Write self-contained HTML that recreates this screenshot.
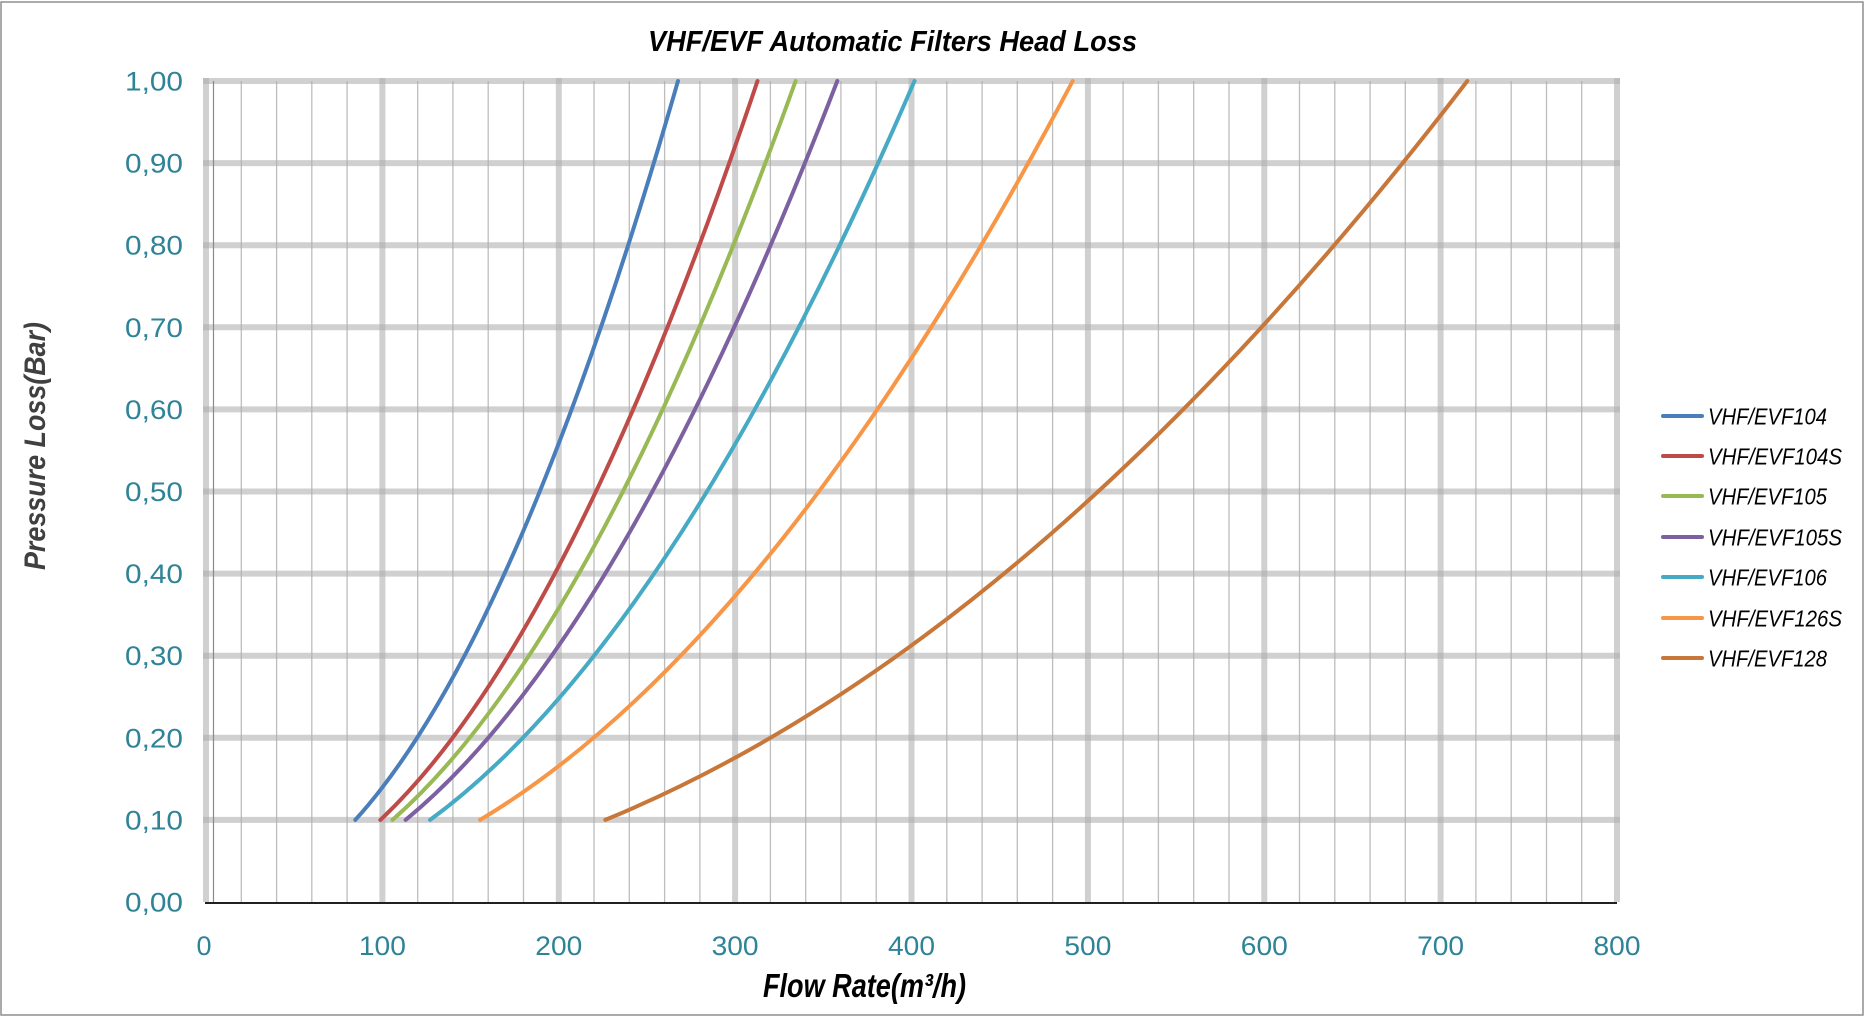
<!DOCTYPE html>
<html>
<head>
<meta charset="utf-8">
<style>
html,body{margin:0;padding:0;background:#fff;}
svg{display:block;}
</style>
</head>
<body>
<svg width="1865" height="1017" viewBox="0 0 1865 1017" xmlns="http://www.w3.org/2000/svg">
<rect x="0" y="0" width="1865" height="1017" fill="#ffffff"/>
<rect x="1" y="2" width="1862" height="1013" fill="#ffffff" stroke="#8f8f8f" stroke-width="1.5"/>

<!-- Title -->
<text x="648" y="51" font-family="Liberation Sans, Arial, sans-serif" font-size="29" font-weight="bold" font-style="italic" fill="#000" textLength="489" lengthAdjust="spacingAndGlyphs">VHF/EVF Automatic Filters Head Loss</text>

<!-- minor vertical gridlines -->
<g stroke="rgb(173,173,173)" stroke-opacity="0.8" stroke-width="1.3">
<line x1="241.3" y1="81" x2="241.3" y2="902"/><line x1="276.6" y1="81" x2="276.6" y2="902"/><line x1="311.8" y1="81" x2="311.8" y2="902"/><line x1="347.1" y1="81" x2="347.1" y2="902"/>
<line x1="417.7" y1="81" x2="417.7" y2="902"/><line x1="452.9" y1="81" x2="452.9" y2="902"/><line x1="488.2" y1="81" x2="488.2" y2="902"/><line x1="523.5" y1="81" x2="523.5" y2="902"/>
<line x1="594.0" y1="81" x2="594.0" y2="902"/><line x1="629.3" y1="81" x2="629.3" y2="902"/><line x1="664.6" y1="81" x2="664.6" y2="902"/><line x1="699.9" y1="81" x2="699.9" y2="902"/>
<line x1="770.4" y1="81" x2="770.4" y2="902"/><line x1="805.7" y1="81" x2="805.7" y2="902"/><line x1="840.9" y1="81" x2="840.9" y2="902"/><line x1="876.2" y1="81" x2="876.2" y2="902"/>
<line x1="946.8" y1="81" x2="946.8" y2="902"/><line x1="982.1" y1="81" x2="982.1" y2="902"/><line x1="1017.3" y1="81" x2="1017.3" y2="902"/><line x1="1052.6" y1="81" x2="1052.6" y2="902"/>
<line x1="1123.1" y1="81" x2="1123.1" y2="902"/><line x1="1158.4" y1="81" x2="1158.4" y2="902"/><line x1="1193.7" y1="81" x2="1193.7" y2="902"/><line x1="1229.0" y1="81" x2="1229.0" y2="902"/>
<line x1="1299.5" y1="81" x2="1299.5" y2="902"/><line x1="1334.8" y1="81" x2="1334.8" y2="902"/><line x1="1370.1" y1="81" x2="1370.1" y2="902"/><line x1="1405.3" y1="81" x2="1405.3" y2="902"/>
<line x1="1475.9" y1="81" x2="1475.9" y2="902"/><line x1="1511.2" y1="81" x2="1511.2" y2="902"/><line x1="1546.5" y1="81" x2="1546.5" y2="902"/><line x1="1581.7" y1="81" x2="1581.7" y2="902"/>
</g>

<!-- major gridlines -->
<g stroke="rgb(173,173,173)" stroke-opacity="0.574" stroke-width="6">
<line x1="206" y1="78" x2="206" y2="902"/>
<line x1="382.4" y1="78" x2="382.4" y2="902"/>
<line x1="558.8" y1="78" x2="558.8" y2="902"/>
<line x1="735.1" y1="78" x2="735.1" y2="902"/>
<line x1="911.5" y1="78" x2="911.5" y2="902"/>
<line x1="1087.9" y1="78" x2="1087.9" y2="902"/>
<line x1="1264.3" y1="78" x2="1264.3" y2="902"/>
<line x1="1440.6" y1="78" x2="1440.6" y2="902"/>
<line x1="1617" y1="78" x2="1617" y2="902"/>
<line x1="203" y1="819.9" x2="1620" y2="819.9"/>
<line x1="203" y1="737.8" x2="1620" y2="737.8"/>
<line x1="203" y1="655.7" x2="1620" y2="655.7"/>
<line x1="203" y1="573.6" x2="1620" y2="573.6"/>
<line x1="203" y1="491.5" x2="1620" y2="491.5"/>
<line x1="203" y1="409.4" x2="1620" y2="409.4"/>
<line x1="203" y1="327.3" x2="1620" y2="327.3"/>
<line x1="203" y1="245.2" x2="1620" y2="245.2"/>
<line x1="203" y1="163.1" x2="1620" y2="163.1"/>
<line x1="203" y1="81" x2="1620" y2="81"/>
</g>

<!-- axis lines -->
<line x1="213.5" y1="81" x2="213.5" y2="902" stroke="#8a8a8a" stroke-width="1.2"/>
<line x1="205" y1="903" x2="1617" y2="903" stroke="#000" stroke-width="1.8"/>

<!-- Y tick labels -->
<g font-family="Liberation Sans, Arial, sans-serif" font-size="27" fill="#2e8397" text-anchor="end">
<text x="183" y="90.5" textLength="58" lengthAdjust="spacingAndGlyphs">1,00</text>
<text x="183" y="172.6" textLength="58" lengthAdjust="spacingAndGlyphs">0,90</text>
<text x="183" y="254.7" textLength="58" lengthAdjust="spacingAndGlyphs">0,80</text>
<text x="183" y="336.8" textLength="58" lengthAdjust="spacingAndGlyphs">0,70</text>
<text x="183" y="418.9" textLength="58" lengthAdjust="spacingAndGlyphs">0,60</text>
<text x="183" y="501.0" textLength="58" lengthAdjust="spacingAndGlyphs">0,50</text>
<text x="183" y="583.1" textLength="58" lengthAdjust="spacingAndGlyphs">0,40</text>
<text x="183" y="665.2" textLength="58" lengthAdjust="spacingAndGlyphs">0,30</text>
<text x="183" y="747.3" textLength="58" lengthAdjust="spacingAndGlyphs">0,20</text>
<text x="183" y="829.4" textLength="58" lengthAdjust="spacingAndGlyphs">0,10</text>
<text x="183" y="911.5" textLength="58" lengthAdjust="spacingAndGlyphs">0,00</text>
</g>

<!-- X tick labels -->
<g font-family="Liberation Sans, Arial, sans-serif" font-size="27" fill="#2e8397" text-anchor="middle">
<text x="204" y="955">0</text>
<text x="382.4" y="955" textLength="47" lengthAdjust="spacingAndGlyphs">100</text>
<text x="558.8" y="955" textLength="47" lengthAdjust="spacingAndGlyphs">200</text>
<text x="735.1" y="955" textLength="47" lengthAdjust="spacingAndGlyphs">300</text>
<text x="911.5" y="955" textLength="47" lengthAdjust="spacingAndGlyphs">400</text>
<text x="1087.9" y="955" textLength="47" lengthAdjust="spacingAndGlyphs">500</text>
<text x="1264.3" y="955" textLength="47" lengthAdjust="spacingAndGlyphs">600</text>
<text x="1440.6" y="955" textLength="47" lengthAdjust="spacingAndGlyphs">700</text>
<text x="1617" y="955" textLength="47" lengthAdjust="spacingAndGlyphs">800</text>
</g>

<!-- Axis titles -->
<text x="763" y="997" font-family="Liberation Sans, Arial, sans-serif" font-size="33" font-weight="bold" font-style="italic" fill="#000" textLength="203" lengthAdjust="spacingAndGlyphs">Flow Rate(m³/h)</text>
<text transform="translate(45,446) rotate(-90)" x="0" y="0" text-anchor="middle" font-family="Liberation Sans, Arial, sans-serif" font-size="30" font-weight="bold" font-style="italic" fill="#404040" textLength="248" lengthAdjust="spacingAndGlyphs">Pressure Loss(Bar)</text>

<!-- Series -->
<g fill="none" stroke-width="4" stroke-linecap="round" stroke-linejoin="round">
<path d="M355.3,819.9 Q516.6,642.4 678.0,81" stroke="#4a7ebb"/>
<path d="M380.4,819.9 Q569.0,642.4 757.5,81" stroke="#be4b48"/>
<path d="M392.5,819.9 Q594.0,642.4 795.6,81" stroke="#98b954"/>
<path d="M405.6,819.9 Q621.4,642.4 837.3,81" stroke="#7d60a0"/>
<path d="M430.1,819.9 Q672.3,642.4 914.5,81" stroke="#46aac5"/>
<path d="M480.1,819.9 Q776.4,642.4 1072.7,81" stroke="#f79646"/>
<path d="M605.3,819.9 Q1036.5,642.4 1467.3,81" stroke="#c8773a"/>
</g>

<!-- Legend -->
<g stroke-width="4" stroke-linecap="round">
<line x1="1663" y1="416" x2="1702" y2="416" stroke="#4a7ebb"/>
<line x1="1663" y1="456" x2="1702" y2="456" stroke="#be4b48"/>
<line x1="1663" y1="496" x2="1702" y2="496" stroke="#98b954"/>
<line x1="1663" y1="537" x2="1702" y2="537" stroke="#7d60a0"/>
<line x1="1663" y1="577" x2="1702" y2="577" stroke="#46aac5"/>
<line x1="1663" y1="618" x2="1702" y2="618" stroke="#f79646"/>
<line x1="1663" y1="658" x2="1702" y2="658" stroke="#c8773a"/>
</g>
<g font-family="Liberation Sans, Arial, sans-serif" font-size="23" font-style="italic" fill="#000">
<text x="1708" y="424.5" textLength="119" lengthAdjust="spacingAndGlyphs">VHF/EVF104</text>
<text x="1708" y="464.5" textLength="134" lengthAdjust="spacingAndGlyphs">VHF/EVF104S</text>
<text x="1708" y="504.5" textLength="119" lengthAdjust="spacingAndGlyphs">VHF/EVF105</text>
<text x="1708" y="545.5" textLength="134" lengthAdjust="spacingAndGlyphs">VHF/EVF105S</text>
<text x="1708" y="585.5" textLength="119" lengthAdjust="spacingAndGlyphs">VHF/EVF106</text>
<text x="1708" y="626.5" textLength="134" lengthAdjust="spacingAndGlyphs">VHF/EVF126S</text>
<text x="1708" y="666.5" textLength="119" lengthAdjust="spacingAndGlyphs">VHF/EVF128</text>
</g>
</svg>
</body>
</html>
